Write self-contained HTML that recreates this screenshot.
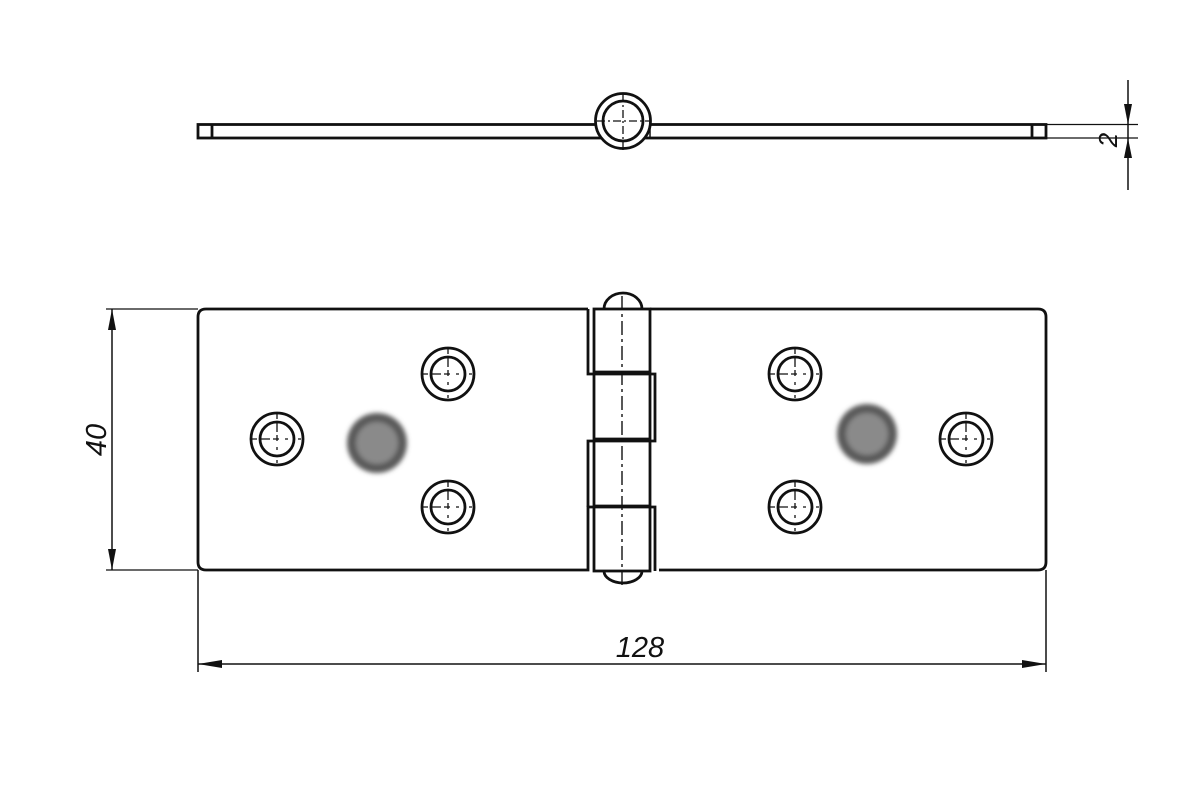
<!DOCTYPE html>
<html><head><meta charset="utf-8"><style>
html,body{margin:0;padding:0;background:#fff;}
svg{display:block;}
text{font-family:"Liberation Sans",sans-serif;font-style:italic;fill:#111;}
</style></head><body>
<svg width="1200" height="792" viewBox="0 0 1200 792" xmlns="http://www.w3.org/2000/svg">
<defs>
<filter id="bl"><feGaussianBlur stdDeviation="2.5"/></filter>
<g id="h">
<circle cx="0" cy="0" r="26" stroke-width="2.8"/>
<circle cx="0" cy="0" r="17" stroke-width="2.8"/>
<line x1="-26" y1="0" x2="26" y2="0" stroke-width="1.3" stroke-dasharray="6 3 10 3 6"/>
<line x1="0" y1="-26" x2="0" y2="26" stroke-width="1.3" stroke-dasharray="6 3 10 3 6"/>
</g>
</defs>
<g fill="none" stroke="#111" stroke-width="2.8">
<!-- top view -->
<rect x="198" y="124.5" width="848" height="13.5" fill="#fff"/>
<line x1="212" y1="124.5" x2="212" y2="138"/>
<line x1="1032" y1="124.5" x2="1032" y2="138"/>
<circle cx="623" cy="121" r="27.5" fill="#fff"/>
<circle cx="623" cy="121" r="20"/>
<line x1="597" y1="121" x2="650" y2="121" stroke-width="1.3" stroke-dasharray="8 3 2 3"/>
<line x1="623" y1="94" x2="623" y2="150" stroke-width="1.3" stroke-dasharray="8 3 2 3"/>
<line x1="650" y1="124.5" x2="650" y2="138" stroke-width="1.5"/>
<!-- right dim 2 -->
<line x1="1046" y1="124.5" x2="1138" y2="124.5" stroke-width="1.3"/>
<line x1="1046" y1="138" x2="1138" y2="138" stroke-width="1.3"/>
<line x1="1128" y1="80" x2="1128" y2="190" stroke-width="1.5"/>
</g>
<polygon points="1128,124.5 1124,104 1132,104" fill="#111"/>
<polygon points="1128,138 1124,158 1132,158" fill="#111"/>
<text x="0" y="0" font-size="26" transform="translate(1117,140) rotate(-90)" text-anchor="middle">2</text>

<g fill="none" stroke="#111" stroke-width="2.8" stroke-linejoin="miter">
<path d="M604,309 A19,16 0 0 1 642,309" fill="#fff"/>
<path d="M604,571 A19,12 0 0 0 642,571" fill="#fff"/>
<path d="M588,309 L206,309 Q198,309 198,317 L198,562 Q198,570 206,570 L588,570 L588,507 L655,507 L655,571"/>
<path d="M588,309 L588,374 L655,374 L655,441 L588,441 L588,507"/>
<path d="M650,309 L1038,309 Q1046,309 1046,317 L1046,562 Q1046,570 1038,570 L659,570"/>
<rect x="594" y="309" width="56" height="262"/>
<line x1="594" y1="372" x2="650" y2="372"/>
<line x1="594" y1="439" x2="650" y2="439"/>
<line x1="594" y1="506" x2="650" y2="506"/>
<line x1="622" y1="296" x2="622" y2="586" stroke-width="1.4" stroke-dasharray="14 4 3 4"/>
<line x1="106" y1="309" x2="198" y2="309" stroke-width="1.3"/>
<line x1="106" y1="570" x2="198" y2="570" stroke-width="1.3"/>
<line x1="112" y1="309" x2="112" y2="570" stroke-width="1.5"/>
<line x1="198" y1="570" x2="198" y2="672" stroke-width="1.5"/>
<line x1="1046" y1="570" x2="1046" y2="672" stroke-width="1.5"/>
<line x1="198" y1="664" x2="1046" y2="664" stroke-width="1.5"/>
</g>
<polygon points="112,309 108,330 116,330" fill="#111"/>
<polygon points="112,570 108,549 116,549" fill="#111"/>
<polygon points="198,664 222,660 222,668" fill="#111"/>
<polygon points="1046,664 1022,660 1022,668" fill="#111"/>
<text font-size="29" transform="translate(106,440) rotate(-90)" text-anchor="middle">40</text>
<text x="640" y="657" font-size="29" text-anchor="middle">128</text>

<g fill="none" stroke="#111">
<use href="#h" transform="translate(277,439)"/>
<use href="#h" transform="translate(448,374)"/>
<use href="#h" transform="translate(448,507)"/>
<use href="#h" transform="translate(795,374)"/>
<use href="#h" transform="translate(795,507)"/>
<use href="#h" transform="translate(966,439)"/>
</g>
<g filter="url(#bl)">
<circle cx="377" cy="443" r="30" fill="#5a5a5a"/>
<circle cx="377" cy="443" r="21" fill="#8a8a8a"/>
<circle cx="867" cy="434" r="30" fill="#5a5a5a"/>
<circle cx="867" cy="434" r="21" fill="#8a8a8a"/>
</g>
</svg>
</body></html>
